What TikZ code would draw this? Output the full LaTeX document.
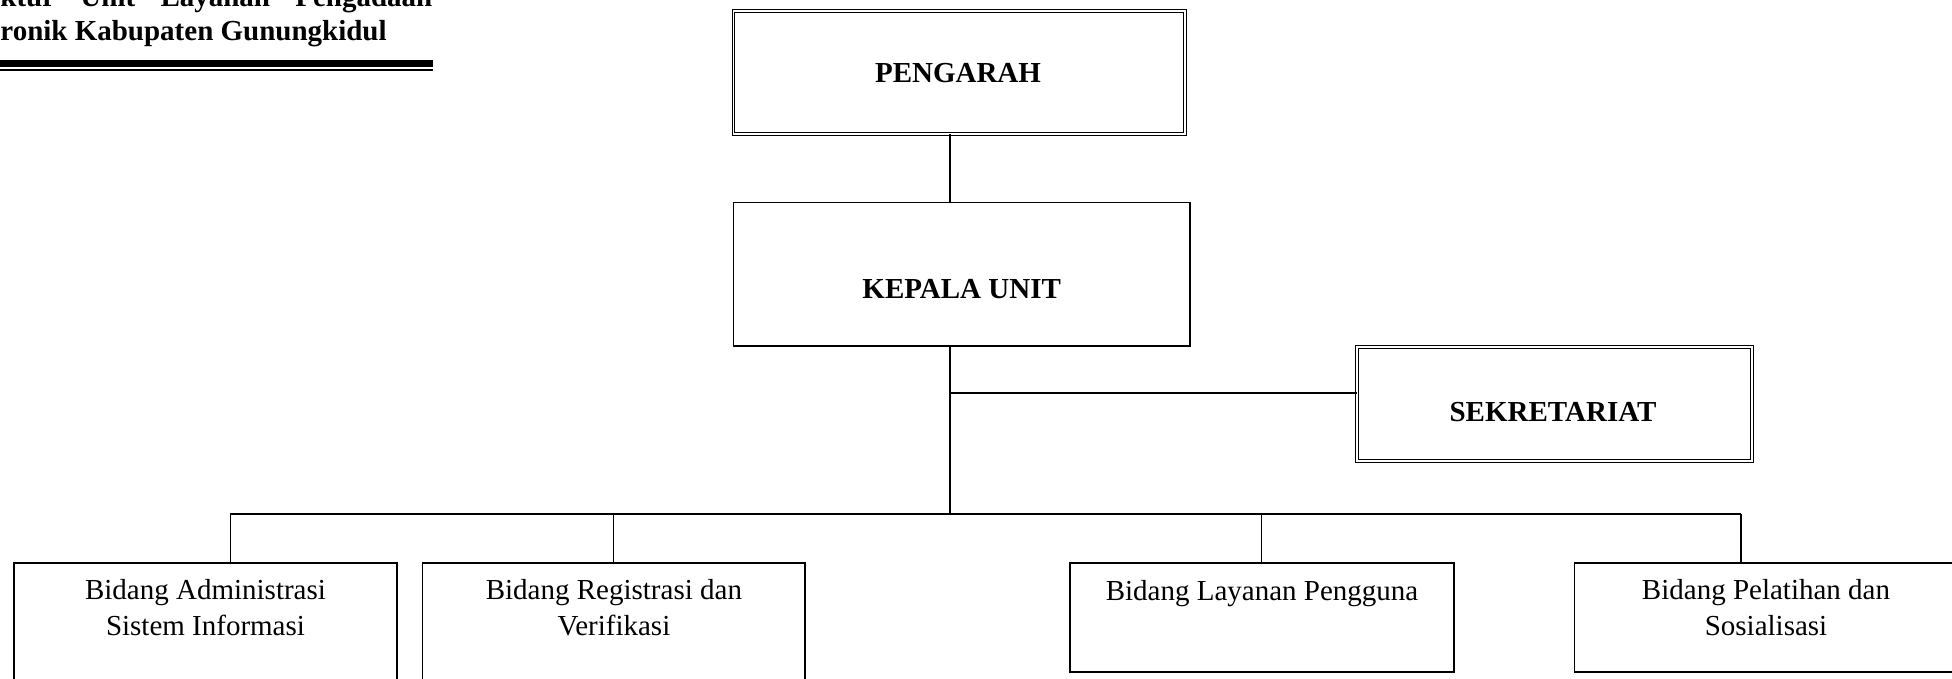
\documentclass[tikz,border=0pt]{standalone}
\usepackage{fontspec}
\setmainfont{Liberation Serif}
\begin{document}
\begin{tikzpicture}[x=0.5pt,y=-0.5pt,
  conn/.style={draw=black,line width=0.85pt},
  box/.style={draw=black,line width=0.85pt,rectangle,inner sep=0pt,outer sep=0pt},
  dbox/.style={draw=black,line width=0.55pt,double=white,double distance=0.85pt,rectangle,inner sep=0pt,outer sep=0pt},
  bt/.style={font=\fontsize{14.5}{18}\selectfont\bfseries,inner sep=0pt,anchor=base},
  nt/.style={font=\fontsize{14.5}{18}\selectfont,inner sep=0pt,anchor=base,align=center},
  tt/.style={font=\fontsize{14.5}{18}\selectfont\bfseries,inner sep=0pt,anchor=base west}]
\useasboundingbox (0,0) rectangle (1952,679);
\clip (0,0) rectangle (1952,679);
% title
\node[tt] (title1) at (0,7) {\hbox to 216pt{ktur\hfill Unit\hfill Layanan\hfill Pengadaan}};
\node[tt] (title2) at (0,40.7) {ronik Kabupaten Gunungkidul};
\fill (0,60) rectangle (433,66.7);
\fill (0,69.4) rectangle (433,71);
% boxes
\node[dbox,minimum width=225.9pt,minimum height=61.7pt] (pengarah) at (959.4,72.5) {};
\node[box,minimum width=228.3pt,minimum height=71.8pt] (kepala) at (961.7,274.2) {};
\node[dbox,minimum width=197.7pt,minimum height=57.1pt] (sek) at (1554.5,403.9) {};
\node[box,minimum width=191.35pt,minimum height=78.35pt] (b1) at (205.35,641.65) {};
\node[box,minimum width=191.45pt,minimum height=78.35pt] (b2) at (613.85,641.65) {};
\node[box,minimum width=192.3pt,minimum height=54.35pt] (b3) at (1262,617.65) {};
\node[box,minimum width=191.45pt,minimum height=54.35pt] (b4) at (1765.85,617.65) {};
% texts
\node[bt] (tp) at (958,83) {PENGARAH};
\node[bt] (tk) at (961.7,298) {KEPALA UNIT};
\node[bt] (ts) at (1553,421) {SEKRETARIAT};
\node[nt] (t1) at (205.5,635) {Bidang Administrasi\\Sistem Informasi};
\node[nt] (t2) at (613.9,635) {Bidang Registrasi dan\\Verifikasi};
\node[nt] (t3) at (1262,600) {Bidang Layanan Pengguna};
\node[nt] (t4) at (1766,635) {Bidang Pelatihan dan\\Sosialisasi};
% connectors
\coordinate (trunk) at (950,514.3);
\coordinate (sj) at (950,393.3);
\coordinate (v1) at (230.4,514.3);
\coordinate (v2) at (613.6,514.3);
\coordinate (v3) at (1261.6,514.3);
\coordinate (v4) at (1741.2,514.3);
\draw[conn] (pengarah.south -| trunk) -- (kepala.north -| trunk);
\draw[conn] (kepala.south -| trunk) -- (trunk);
\draw[conn] (sj) -- (sj -| sek.west);
\draw[conn] (v1) -- (v4);
\draw[conn] (v1) -- (v1 |- b1.north);
\draw[conn] (v2) -- (v2 |- b2.north);
\draw[conn] (v3) -- (v3 |- b3.north);
\draw[conn] (v4) -- (v4 |- b4.north);
\end{tikzpicture}
\end{document}
